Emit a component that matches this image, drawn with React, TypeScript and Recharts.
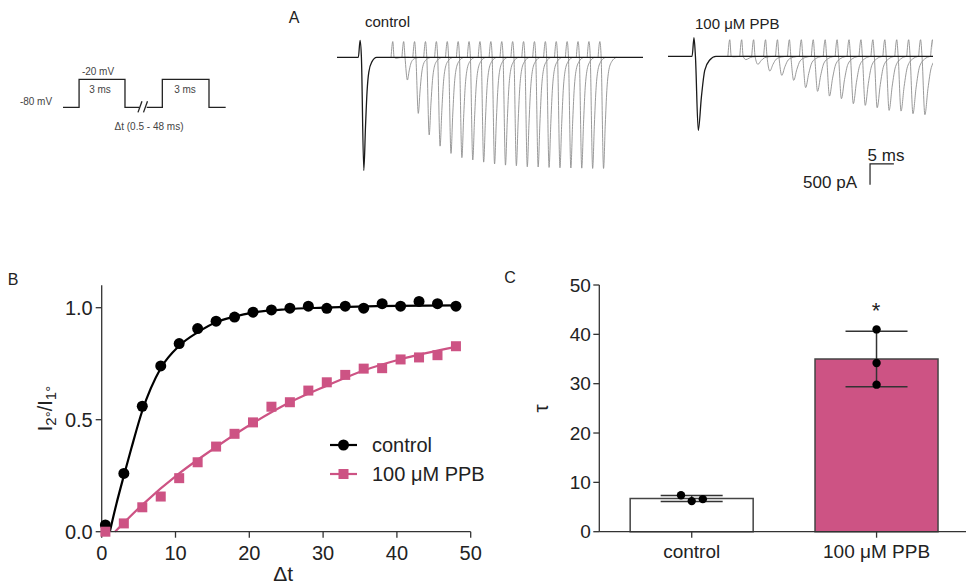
import React from "react";
import {
  Bar,
  Cell,
  ComposedChart,
  ErrorBar,
  Label,
  Line,
  LineChart,
  Scatter,
  XAxis,
  YAxis,
} from "recharts";

const FONT = '"Liberation Sans", Arial, Helvetica, sans-serif';
const INK = "#222";
const AXIS = "#333";
const PINK = "#CD5384";
const TRACE_GREY = "#8f8f8f";

// ---- panel B: paired-pulse recovery ----
const deltaT = [0.5, 3, 5.5, 8, 10.5, 13, 15.5, 18, 20.5, 23, 25.5, 28, 30.5, 33, 35.5, 38, 40.5, 43, 45.5, 48];
const ratioControl = [0.03, 0.26, 0.56, 0.74, 0.84, 0.907, 0.94, 0.958, 0.98, 0.99, 0.998, 1.007, 0.997, 1.007, 0.998, 1.018, 1.007, 1.028, 1.018, 1.007];
const ratioPPB = [0.0, 0.037, 0.109, 0.157, 0.239, 0.31, 0.38, 0.437, 0.488, 0.558, 0.578, 0.63, 0.667, 0.7, 0.728, 0.73, 0.769, 0.778, 0.788, 0.828];
const fitControlT = [1.1, 2, 3, 4, 5.5, 8, 10.5, 13, 15.5, 18, 20.5, 25, 30, 40, 48];
const fitControlY = [0, 0.125, 0.25, 0.37, 0.54, 0.73, 0.83, 0.89, 0.935, 0.96, 0.978, 0.993, 1.0, 1.008, 1.01];
const fitPPBT = [1.8, 5.5, 10.5, 15.5, 20.5, 25.5, 30.5, 35.5, 40.5, 48];
const fitPPBY = [0, 0.12, 0.26, 0.378, 0.485, 0.578, 0.652, 0.72, 0.77, 0.825];

// ---- panel C: recovery time constants ----
const groups = ["control", "100 μM PPB"];
const tauControl = [7.4, 6.2, 6.6];
const tauPPB = [41.0, 34.2, 29.8];
const dotJitter = [-0.058, 0, 0.06];

// ---- panel A: currents (pA), second pulse starts 7 ms + Δt after the first ----
const secondPulseOffset = 7;
const firstPeakControl = 2730;
const firstPeakPPB = 1787;
const secondPeakControl = [25, 548, 1352, 1872, 2142, 2318, 2420, 2475, 2528, 2572, 2600, 2615, 2640, 2645, 2656, 2664, 2669, 2673, 2680, 2680];
const secondPeakPPB = [12, 80, 193, 355, 459, 580, 756, 845, 959, 1022, 1142, 1183, 1239, 1304, 1321, 1384, 1408, 1430];
const artefactControl = [410, 380];
const artefactPPB = [450, 400];

// response shape: ms after the artefact, fraction of peak, fraction of artefact
const shapeControl = {
  t: [-0.4, 0, 0.3, 0.85, 1.25, 1.6, 2.0, 2.7, 3.8],
  depth: [0, 0, 0, 1, 0.6, 0.3, 0.13, 0.04, 0],
  art: [0, 1, 0, 0, 0, 0, 0, 0, 0],
};
const shapePPB = {
  t: [-0.4, 0, 0.3, 0.9, 1.55, 2.25, 3.3, 4.6],
  depth: [0, 0, 0, 1, 0.55, 0.19, 0.05, 0],
  art: [0, 1, 0, 0, 0, 0, 0, 0],
};

// ---- voltage protocol (ms, mV), null marks the break ----
const protocolT = [0, 1.05, 1.05, 4.05, 4.05, 4.99, 5.2, 5.47, 6.49, 6.49, 9.54, 9.54, 10.63];
const protocolV = [-80, -80, -20, -20, -80, -80, null, -80, -80, -20, -20, -80, -80];

const scaleBarMs = 5;
const scaleBarPA = 500;

type Shape = { t: number[]; depth: number[]; art: number[] };

function pulse(t0: number, peak: number, art: number, shape: Shape) {
  return shape.t.map((dt, k) => ({ t: t0 + dt, i: -peak * shape.depth[k] + art * shape.art[k] }));
}

function Txt({ x, y, size = 16, anchor = "middle", children, style }: any) {
  const tx = anchor === "start" ? "0" : anchor === "end" ? "-100%" : "-50%";
  return (
    <div
      style={{
        position: "absolute",
        left: x,
        top: y,
        transform: `translate(${tx}, -50%)`,
        fontSize: size,
        lineHeight: 1,
        whiteSpace: "nowrap",
        ...style,
      }}
    >
      {children}
    </div>
  );
}

function TraceChart({ left, top, width, xDomain, shape, firstPeak, peaks, artefact, children }: any) {
  const main = [
    { t: xDomain[0], i: 0 },
    ...pulse(0, firstPeak, artefact[0], shape),
    { t: xDomain[1], i: 0 },
  ];
  return (
    <div style={{ position: "absolute", left, top }}>
      <LineChart width={width} height={190} margin={{ top: 10, right: 10, bottom: 10, left: 10 }}>
        <XAxis type="number" dataKey="t" domain={xDomain} hide allowDataOverflow />
        <YAxis type="number" domain={[-3200, 900]} hide allowDataOverflow />
        {peaks.map((p: number, k: number) => (
          <Line
            key={k}
            data={pulse(secondPulseOffset + deltaT[k], p, artefact[1], shape)}
            dataKey="i"
            type="monotone"
            stroke={TRACE_GREY}
            strokeWidth={0.9}
            dot={false}
            isAnimationActive={false}
          />
        ))}
        <Line data={main} dataKey="i" type="monotone" stroke="#1a1a1a" strokeWidth={1.3} dot={false} isAnimationActive={false} />
        {children}
      </LineChart>
    </div>
  );
}

function Protocol() {
  const steps = protocolT.map((t, k) => ({ t, v: protocolV[k] }));
  const slashes = [
    [{ t: 4.9, v: -90.7 }, { t: 5.16, v: -67.1 }],
    [{ t: 5.26, v: -90.7 }, { t: 5.52, v: -67.1 }],
  ];
  return (
    <div style={{ position: "absolute", left: 53, top: 59.7 }}>
      <LineChart width={182.7} height={66.7} margin={{ top: 10, right: 10, bottom: 10, left: 10 }}>
        <XAxis type="number" dataKey="t" domain={[0, 10.63]} hide />
        <YAxis type="number" domain={[-100, 0]} hide />
        <Line data={steps} dataKey="v" type="linear" stroke={INK} strokeWidth={1.3} dot={false} isAnimationActive={false} />
        {slashes.map((s, k) => (
          <Line key={k} data={s} dataKey="v" type="linear" stroke={INK} strokeWidth={1.3} dot={false} isAnimationActive={false} />
        ))}
      </LineChart>
    </div>
  );
}

const tickStyle = (size: number) => ({ fill: INK, fontSize: size, fontFamily: FONT });

function RecoveryChart() {
  const ptsControl = deltaT.map((x, k) => ({ x, y: ratioControl[k] }));
  const ptsPPB = deltaT.map((x, k) => ({ x, y: ratioPPB[k] }));
  const fitControl = fitControlT.map((x, k) => ({ x, y: fitControlY[k] }));
  const fitPPB = fitPPBT.map((x, k) => ({ x, y: fitPPBY[k] }));

  const yLabel = (props: any) => {
    const vb = props.viewBox;
    const cx = 45;
    const cy = vb.y + vb.height / 2;
    return (
      <text
        x={cx}
        y={cy}
        transform={`rotate(-90 ${cx} ${cy})`}
        textAnchor="middle"
        dominantBaseline="central"
        fontSize={20}
        fontFamily={FONT}
        fill={INK}
      >
        I<tspan fontSize={15} dy={5}>2°</tspan>
        <tspan dy={-5}>/I</tspan>
        <tspan fontSize={15} dy={5}>1°</tspan>
      </text>
    );
  };
  const xLabel = (props: any) => {
    const vb = props.viewBox;
    return (
      <text x={vb.x + vb.width / 2 - 3} y={321} textAnchor="middle" fontSize={21} fontFamily={FONT} fill={INK}>
        Δt
      </text>
    );
  };

  return (
    <div style={{ position: "absolute", left: 0, top: 260 }}>
      <ComposedChart width={500} height={324} margin={{ top: 25.3, right: 29.3, bottom: 0, left: 0 }}>
        <XAxis
          type="number"
          dataKey="x"
          domain={[0, 50]}
          ticks={[0, 10, 20, 30, 40, 50]}
          height={52.3}
          tickSize={6}
          tickMargin={8}
          stroke={AXIS}
          strokeWidth={1.3}
          tick={tickStyle(20)}
        >
          <Label content={xLabel} />
        </XAxis>
        <YAxis
          type="number"
          dataKey="y"
          domain={[0, 1.1]}
          ticks={[0, 0.5, 1]}
          tickFormatter={(v: number) => v.toFixed(1)}
          width={101.7}
          tickSize={6}
          tickMargin={3}
          stroke={AXIS}
          strokeWidth={1.3}
          tick={tickStyle(20)}
        >
          <Label content={yLabel} />
        </YAxis>
        <Line data={fitControl} dataKey="y" type="monotone" stroke="#000" strokeWidth={2.2} dot={false} isAnimationActive={false} />
        <Line data={fitPPB} dataKey="y" type="monotone" stroke={PINK} strokeWidth={2.2} dot={false} isAnimationActive={false} />
        <Scatter
          data={ptsControl}
          dataKey="y"
          isAnimationActive={false}
          shape={(p: any) => <circle cx={p.cx} cy={p.cy} r={5.5} fill="#000" />}
        />
        <Scatter
          data={ptsPPB}
          dataKey="y"
          isAnimationActive={false}
          shape={(p: any) => <rect x={p.cx - 5} y={p.cy - 5} width={10} height={10} fill={PINK} />}
        />
      </ComposedChart>
    </div>
  );
}

function mean(v: number[]) {
  return v.reduce((a, b) => a + b, 0) / v.length;
}
function sd(v: number[]) {
  const m = mean(v);
  return Math.sqrt(v.reduce((a, b) => a + (b - m) * (b - m), 0) / (v.length - 1));
}

function TauChart() {
  const samples = [tauControl, tauPPB];
  const barData = groups.map((name, k) => ({ name, mean: mean(samples[k]), sd: sd(samples[k]) }));
  const dots = samples.flatMap((vals, g) => vals.map((y, k) => ({ x: g + 0.5 + (g === 0 ? dotJitter[k] : 0), y })));

  const yLabel = (props: any) => {
    const vb = props.viewBox;
    const cx = 41;
    const cy = vb.y + vb.height / 2;
    return (
      <text
        x={cx}
        y={cy}
        transform={`rotate(-90 ${cx} ${cy})`}
        textAnchor="middle"
        dominantBaseline="central"
        fontSize={21}
        fontFamily={FONT}
        fill={INK}
      >
        τ
      </text>
    );
  };

  return (
    <div style={{ position: "absolute", left: 500, top: 260 }}>
      <ComposedChart
        width={470}
        height={324}
        data={barData}
        margin={{ top: 25, right: 1, bottom: 0, left: 0 }}
        barCategoryGap="16.7%"
      >
        <XAxis dataKey="name" height={52.3} tickSize={6} tickMargin={7} stroke={AXIS} strokeWidth={1.3} tick={tickStyle(19)} />
        <XAxis xAxisId="num" type="number" dataKey="x" domain={[0, 2]} hide />
        <YAxis
          domain={[0, 50]}
          ticks={[0, 10, 20, 30, 40, 50]}
          width={99.3}
          tickSize={6}
          tickMargin={2.5}
          stroke={AXIS}
          strokeWidth={1.3}
          tick={tickStyle(19)}
        >
          <Label content={yLabel} />
        </YAxis>
        <Bar dataKey="mean" stroke="#444" strokeWidth={1.5} isAnimationActive={false}>
          {barData.map((d, k) => (
            <Cell key={d.name} fill={k === 0 ? "#fff" : PINK} />
          ))}
          <ErrorBar dataKey="sd" width={31} stroke={AXIS} strokeWidth={1.5} direction="y" isAnimationActive={false} />
        </Bar>
        <Scatter
          xAxisId="num"
          data={dots}
          dataKey="y"
          isAnimationActive={false}
          shape={(p: any) => <circle cx={p.cx} cy={p.cy} r={4.2} fill="#000" />}
        />
      </ComposedChart>
    </div>
  );
}

function LegendRow({ y, color, marker, label }: any) {
  return (
    <div style={{ position: "absolute", left: 330, top: y - 11, height: 22, display: "flex", alignItems: "center" }}>
      <svg width={28} height={22}>
        <line x1={0} x2={27} y1={11} y2={11} stroke={color} strokeWidth={2.2} />
        {marker === "circle" ? (
          <circle cx={13.5} cy={11} r={5.5} fill={color} />
        ) : (
          <rect x={8.5} y={6} width={10} height={10} fill={color} />
        )}
      </svg>
      <span style={{ marginLeft: 14, fontSize: 20, lineHeight: 1 }}>{label}</span>
    </div>
  );
}

export default function App() {
  return (
    <div
      style={{
        position: "absolute",
        left: 0,
        top: 0,
        width: 966,
        height: 584,
        overflow: "hidden",
        background: "#fff",
        fontFamily: FONT,
        color: INK,
      }}
    >
      {/* panel A */}
      <Txt x={294} y={18} size={16}>A</Txt>
      <Protocol />
      <Txt x={36} y={102} size={10} style={{ color: "#444" }}>-80 mV</Txt>
      <Txt x={98} y={71.5} size={10} style={{ color: "#444" }}>-20 mV</Txt>
      <Txt x={100} y={90} size={10} style={{ color: "#444" }}>3 ms</Txt>
      <Txt x={185} y={90} size={10} style={{ color: "#444" }}>3 ms</Txt>
      <Txt x={149} y={127} size={10} style={{ color: "#444" }}>Δt (0.5 - 48 ms)</Txt>

      <Txt x={365} y={21} size={15} anchor="start">control</Txt>
      <TraceChart
        left={327}
        top={10}
        width={326}
        xDomain={[-5.3, 64.9]}
        shape={shapeControl}
        firstPeak={firstPeakControl}
        peaks={secondPeakControl}
        artefact={artefactControl}
      />

      <Txt x={695} y={23} size={15} anchor="start">100 μM PPB</Txt>
      <TraceChart
        left={658}
        top={9.4}
        width={285}
        xDomain={[-5.45, 50.1]}
        shape={shapePPB}
        firstPeak={firstPeakPPB}
        peaks={secondPeakPPB}
        artefact={artefactPPB}
      >
        <Line
          data={[
            { t: 36.9 + scaleBarMs, i: -2595 },
            { t: 36.9, i: -2595 },
            { t: 36.9, i: -2595 - scaleBarPA },
          ]}
          dataKey="i"
          type="linear"
          stroke={INK}
          strokeWidth={1.2}
          dot={false}
          isAnimationActive={false}
        />
      </TraceChart>
      <Txt x={886} y={155} size={17}>5 ms</Txt>
      <Txt x={857} y={182} size={17} anchor="end">500 pA</Txt>

      {/* panel B */}
      <Txt x={13} y={280} size={16}>B</Txt>
      <RecoveryChart />
      <LegendRow y={445} color="#000" marker="circle" label="control" />
      <LegendRow y={474} color={PINK} marker="square" label="100 μM PPB" />

      {/* panel C */}
      <Txt x={510} y={278} size={16}>C</Txt>
      <TauChart />
      <Txt x={876} y={311} size={22}>*</Txt>
    </div>
  );
}
